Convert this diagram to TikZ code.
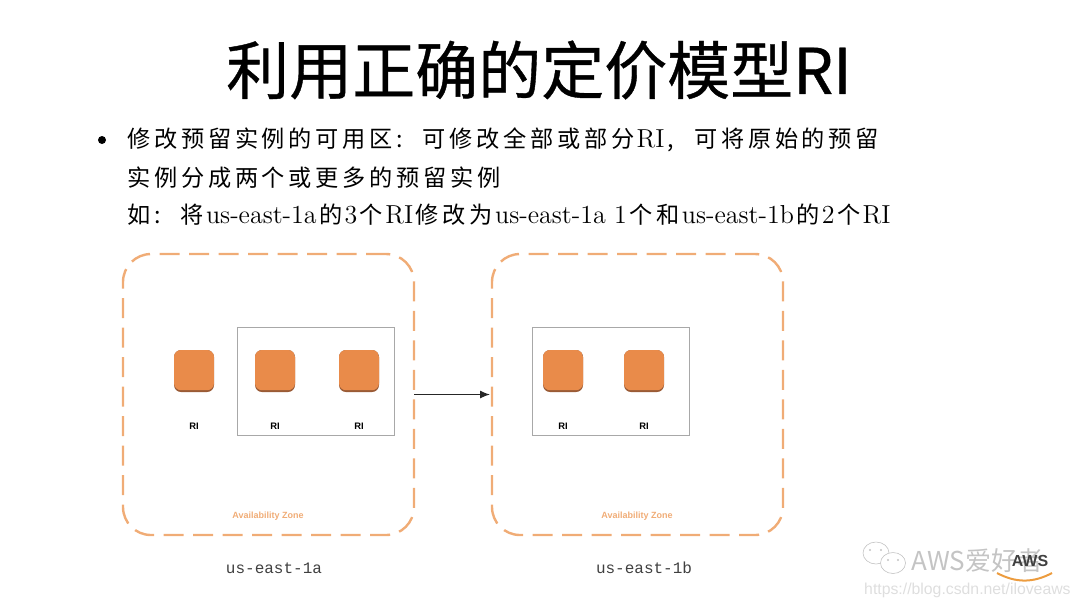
\documentclass[tikz,border=0pt]{standalone}
\usepackage{fontspec}
\usetikzlibrary{positioning,arrows.meta,shapes.geometric}
\setsansfont{Liberation Sans}
\setmonofont{Liberation Mono}
\newfontfamily\titlefont[FakeBold=.6]{Noto Sans CJK SC}
\newfontfamily\markfont{Noto Sans CJK SC}
\newfontfamily\bodyfont[LetterSpace=16]{Noto Sans CJK SC}
\newcommand{\lat}[1]{\hspace{1.2pt}{\rmfamily\fontsize{13}{14}\selectfont #1}\hspace{1.2pt}}
\definecolor{zoneorange}{HTML}{F0AC76}
\definecolor{riorange}{HTML}{E98B4A}
\definecolor{riedge}{HTML}{9A5B36}
\definecolor{pickgray}{HTML}{A8A8A8}
\definecolor{markgray}{HTML}{C4C4C4}
\tikzset{
  zonebox/.style={draw=zoneorange, line width=1.2pt, rounded corners=14pt, dash pattern=on 10pt off 4.75pt, minimum width=145.5pt, minimum height=140.5pt, inner sep=0pt, outer sep=0pt},
  pickbox/.style={draw=pickgray, line width=.5pt, minimum width=78.5pt, minimum height=54pt, inner sep=0pt},
  riicon/.style={fill=riedge, rounded corners=3.5pt, minimum width=20pt, minimum height=21pt, inner sep=0pt,
    path picture={\fill[riorange, rounded corners=3.5pt] (path picture bounding box.north west) rectangle ([yshift=.9pt]path picture bounding box.south east);}},
  rilabel/.style={font=\sffamily\bfseries\fontsize{4.7}{5}\selectfont, inner sep=0pt},
  zonelabel/.style={font=\sffamily\bfseries\fontsize{4.5}{5}\selectfont, text=zoneorange, inner sep=0pt},
  idlabel/.style={font=\ttfamily\fontsize{8}{9}\selectfont, text=black!75, inner sep=0pt},
  bodyline/.style={anchor=west, inner sep=0pt, font=\bodyfont\fontsize{11.6}{14}\selectfont},
  bubble/.style={draw=markgray, fill=white, line width=.3pt, ellipse, inner sep=0pt},
  eye/.style={fill=markgray, circle, minimum size=1.2pt, inner sep=0pt},
}
\begin{document}
\begin{tikzpicture}[x=.5pt,y=-.5pt]
\useasboundingbox (0,0) rectangle (1080,607);

% title and text
\node (title) [inner sep=0pt, font=\titlefont\fontsize{31.5}{36}\selectfont] at (539,70) {利用正确的定价模型RI};
\node (dot) [circle, fill=black, minimum size=4pt, inner sep=0pt] at (102,140) {};
\node (lineone) [bodyline] at (127,140) {修改预留实例的可用区:\hspace{.85em}可修改全部或部分\lat{RI},\hspace{.9em}可将原始的预留};
\node (linetwo) [bodyline] at (127,178) {实例分成两个或更多的预留实例};
\node (linethree) [bodyline] at (127,215) {如:\hspace{.85em}将\lat{us-east-1a}的\lat{3}个\lat{RI}修改为\lat{us-east-1a 1}个和\lat{us-east-1b}的\lat{2}个\lat{RI}};

% zones
\node (zonea) [zonebox] at (268.5,394.5) {};
\node (zoneb) [zonebox] at (637.5,394.5) {};
\node (picka) [pickbox] at (315.5,381) {};
\node (pickb) [pickbox] at (610.5,381) {};
\draw[-{Latex[length=5pt,width=4pt]}, line width=.6pt, black!85, shorten >=1pt] (zonea) -- (zoneb);

\foreach \name/\x in {ria/194,rib/275,ric/359,rid/563,rie/644}{
  \node (\name) [riicon] at (\x,371) {};
  \node (\name text) [rilabel, below=15pt of \name] {RI};
}

\node (zonetexta) [zonelabel] at (268,516) {Availability Zone};
\node (zonetextb) [zonelabel] at (637,516) {Availability Zone};
\node (ida) [idlabel] at (274,568) {us-east-1a};
\node (idb) [idlabel] at (644,568) {us-east-1b};

% watermark
\node (bubblea) [bubble, minimum width=13pt, minimum height=11pt] at (876,553) {};
\node (bubbleb) [bubble, minimum width=12.5pt, minimum height=10.5pt] at (893,563) {};
\foreach \name/\x/\y in {eyea/870/550,eyeb/881/550,eyec/888/560,eyed/898/560}{
  \node (\name) [eye] at (\x,\y) {};
}
\node (marktext) [inner sep=0pt, anchor=west, text=markgray, font=\markfont\fontsize{13}{14}\selectfont] at (911,561) {AWS爱好者};
\node (awstext) [inner sep=0pt, text=black!75, font=\sffamily\bfseries\fontsize{8}{10}\selectfont] at (1030,561) {AWS};
\coordinate (smilea) at (997,573);
\coordinate (smileb) at (1052,573);
\draw[riorange!85!yellow, line width=1pt] (smilea) to[bend right=28] (smileb);
\node (urltext) [inner sep=0pt, anchor=east, text=black!13, font=\sffamily\fontsize{7.9}{9}\selectfont] at (1071,590) {https://blog.csdn.net/iloveaws};
\end{tikzpicture}
\end{document}
